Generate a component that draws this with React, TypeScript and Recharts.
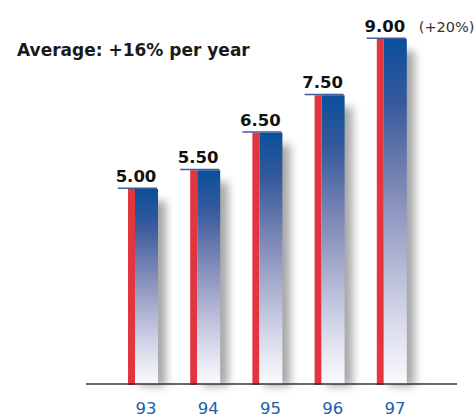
import { BarChart, Bar, XAxis, YAxis } from "recharts"

const years = ["93", "94", "95", "96", "97"]
const values = [5.0, 5.5, 6.5, 7.5, 9.0]
const notes = ["", "", "", "", "(+20%)"]
const title = "Average: +16% per year"

const data = years.map((year, i) => ({ year, value: values[i], note: notes[i] }))

const FONT = "'DejaVu Sans', Verdana, sans-serif"

function SplitBar(props: any) {
  const { x, y, width, height, background, payload } = props
  const bottom = background ? background.y + background.height : y + height
  const redW = 7
  const h = bottom - y
  return (
    <g>
      {/* soft drop shadow behind the bar */}
      <rect x={x + 12} y={y + 12} width={width - 4} height={h - 10} fill="#8a8a8a" opacity={0.75} filter="url(#barShadow)" />
      <rect x={x} y={y} width={redW} height={h + 1} fill="#e2363e" />
      <rect x={x + redW} y={y} width={width - redW} height={h} fill="url(#barGrad)" />
      <rect x={x - 10} y={y - 1.5} width={width + 9} height={1.5} fill="#3f5d98" />
      <text x={x + 8} y={y - 7} textAnchor="middle" fontFamily={FONT} fontWeight="bold" fontSize={16.5} fill="#111">
        {payload.value.toFixed(2)}
      </text>
      {payload.note && (
        <text x={x + 42} y={y - 7} fontFamily={FONT} fontSize={14.5} fill="#333">
          {payload.note}
        </text>
      )}
    </g>
  )
}

function YearTick(props: any) {
  const { x, payload } = props
  return (
    <text x={x + 3} y={414} textAnchor="middle" fontFamily={FONT} fontSize={16.5} fill="#2160aa">
      {payload.value}
    </text>
  )
}

export default function App() {
  return (
    <div style={{ position: "relative", width: 476, height: 418, background: "#fff" }}>
      <style>{`body{margin:0}`}</style>
      <div
        style={{
          position: "absolute",
          left: 17,
          top: 40,
          fontFamily: FONT,
          fontWeight: "bold",
          fontSize: 17,
          color: "#1a1a1a",
          whiteSpace: "nowrap",
        }}
      >
        {title}
      </div>
      <BarChart
        width={476}
        height={418}
        data={data}
        margin={{ top: 39, right: 19, left: 86, bottom: 0 }}
        barSize={30}
      >
        <defs>
          <linearGradient id="barGrad" x1="0" y1="0" x2="0" y2="1">
            <stop offset="0%" stopColor="#0a4f9b" />
            <stop offset="18%" stopColor="#35599c" />
            <stop offset="40%" stopColor="#7682b3" />
            <stop offset="62%" stopColor="#abb0d0" />
            <stop offset="82%" stopColor="#d8daeb" />
            <stop offset="100%" stopColor="#fafafd" />
          </linearGradient>
          <filter id="barShadow" x="-50%" y="-10%" width="200%" height="120%">
            <feGaussianBlur stdDeviation="4" />
          </filter>
        </defs>
        <XAxis
          dataKey="year"
          height={34}
          padding={{ left: 26, right: 34 }}
          axisLine={{ stroke: "#333", strokeWidth: 1.5 }}
          tickLine={false}
          tick={<YearTick />}
          interval={0}
        />
        <YAxis hide domain={[-0.2, 9]} />
        <Bar dataKey="value" shape={<SplitBar />} isAnimationActive={false} />
      </BarChart>
    </div>
  )
}
